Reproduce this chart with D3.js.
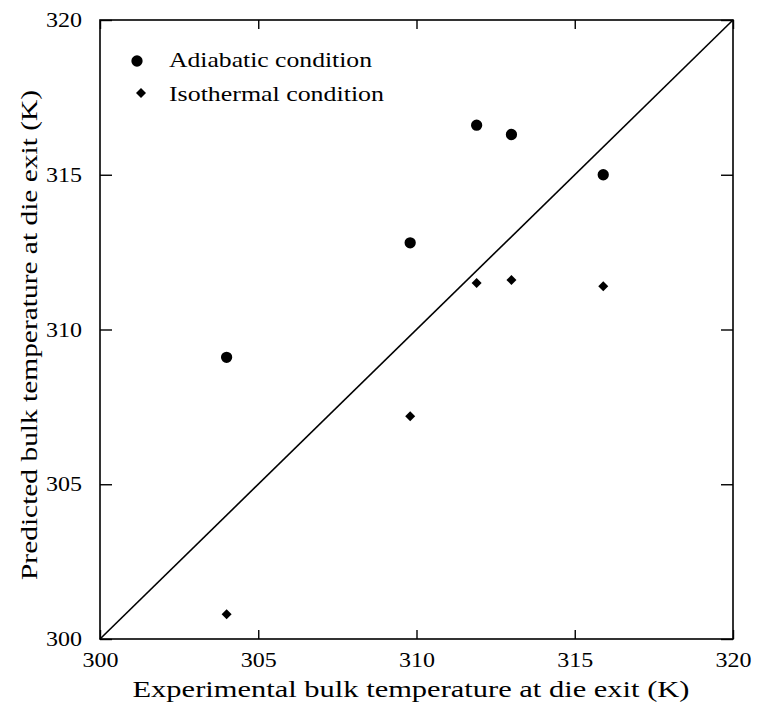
<!DOCTYPE html>
<html>
<head>
<meta charset="utf-8">
<script src="https://cdn.jsdelivr.net/npm/d3@7"></script>
<style>
  body { margin: 0; background: #fff; }
  svg text { font-family: "Liberation Serif", "Times New Roman", serif; fill: #000; }
</style>
</head>
<body>
<div id="chart"></div>
<script>
const width = 771,
    height = 706

const margin = { top: 20, right: 38, bottom: 67, left: 100 }

const xTicks = [300, 305, 310, 315, 320]
const yTicks = [300, 305, 310, 315, 320]

const adiabaticX = [304.0, 309.8, 311.9, 313.0, 315.9]
const adiabaticY = [309.1, 312.8, 316.6, 316.3, 315.0]

const isothermalX = [304.0, 309.8, 311.9, 313.0, 315.9]
const isothermalY = [300.8, 307.2, 311.5, 311.6, 311.4]

const parityLine = [300, 320]

const legendLabels = ["Adiabatic condition", "Isothermal condition"]
const legendWidths = [203, 215]

const x = d3.scaleLinear().domain([300, 320]).range([margin.left, width - margin.right])
const y = d3.scaleLinear().domain([300, 320]).range([height - margin.bottom, margin.top])

const svg = d3.select("#chart")
    .append("svg")
        .attr("width", width)
        .attr("height", height)

// frame
svg.append("rect")
    .attr("x", x(300))
    .attr("y", y(320))
    .attr("width", x(320) - x(300))
    .attr("height", y(300) - y(320))
    .attr("fill", "none")
    .attr("stroke", "#000")
    .attr("stroke-width", 1.6)

const styleAxis = g => {
    g.select(".domain").remove()
    g.selectAll(".tick line").attr("stroke", "#000").attr("stroke-width", 1.4)
    g.selectAll(".tick text")
        .attr("font-size", 21)
        .attr("font-family", "Liberation Serif, serif")
        .attr("fill", "#000")
        .attr("textLength", 36)
        .attr("lengthAdjust", "spacingAndGlyphs")
}

svg.append("g")
    .attr("transform", `translate(0,${y(300)})`)
    .call(d3.axisBottom(x).tickValues(xTicks).tickSize(-9).tickPadding(13).tickFormat(d3.format("d")))
    .call(styleAxis)

svg.append("g")
    .attr("transform", `translate(0,${y(320)})`)
    .call(d3.axisTop(x).tickValues(xTicks).tickSize(-9).tickFormat(""))
    .call(styleAxis)

svg.append("g")
    .attr("transform", `translate(${x(300)},0)`)
    .call(d3.axisLeft(y).tickValues(yTicks).tickSize(-12).tickPadding(18).tickFormat(d3.format("d")))
    .call(styleAxis)

svg.append("g")
    .attr("transform", `translate(${x(320)},0)`)
    .call(d3.axisRight(y).tickValues(yTicks).tickSize(-12).tickFormat(""))
    .call(styleAxis)

// y = x line
svg.append("line")
    .attr("x1", x(parityLine[0]))
    .attr("y1", y(parityLine[0]))
    .attr("x2", x(parityLine[1]))
    .attr("y2", y(parityLine[1]))
    .attr("stroke", "#000")
    .attr("stroke-width", 1.6)

const circle = d3.symbol().type(d3.symbolCircle).size(100)
const diamond = d3.symbol().type(d3.symbolSquare).size(50)

svg.selectAll(".adiabatic")
    .data(adiabaticX.map((d, i) => [d, adiabaticY[i]]))
    .enter()
    .append("path")
        .attr("class", "adiabatic")
        .attr("d", circle)
        .attr("transform", d => `translate(${x(d[0])},${y(d[1])})`)
        .attr("fill", "#000")

svg.selectAll(".isothermal")
    .data(isothermalX.map((d, i) => [d, isothermalY[i]]))
    .enter()
    .append("path")
        .attr("class", "isothermal")
        .attr("d", diamond)
        .attr("transform", d => `translate(${x(d[0])},${y(d[1])}) rotate(45)`)
        .attr("fill", "#000")

// legend
const legend = svg.append("g")
legend.append("path")
    .attr("d", circle)
    .attr("transform", "translate(137,61)")
    .attr("fill", "#000")
legend.append("path")
    .attr("d", diamond)
    .attr("transform", "translate(141,93) rotate(45)")
    .attr("fill", "#000")
legend.selectAll("text")
    .data(legendLabels)
    .enter()
    .append("text")
        .attr("x", 169)
        .attr("y", (d, i) => 67 + i * 34)
        .attr("font-size", 21)
        .attr("textLength", (d, i) => legendWidths[i])
        .attr("lengthAdjust", "spacingAndGlyphs")
        .text(d => d)

// axis titles
svg.append("text")
    .attr("x", 411)
    .attr("y", 697)
    .attr("text-anchor", "middle")
    .attr("font-size", 23)
    .attr("textLength", 557)
    .attr("lengthAdjust", "spacingAndGlyphs")
    .text("Experimental bulk temperature at die exit (K)")

svg.append("text")
    .attr("transform", "translate(37,335) rotate(-90)")
    .attr("text-anchor", "middle")
    .attr("font-size", 23)
    .attr("textLength", 490)
    .attr("lengthAdjust", "spacingAndGlyphs")
    .text("Predicted bulk temperature at die exit (K)")
</script>
</body>
</html>
